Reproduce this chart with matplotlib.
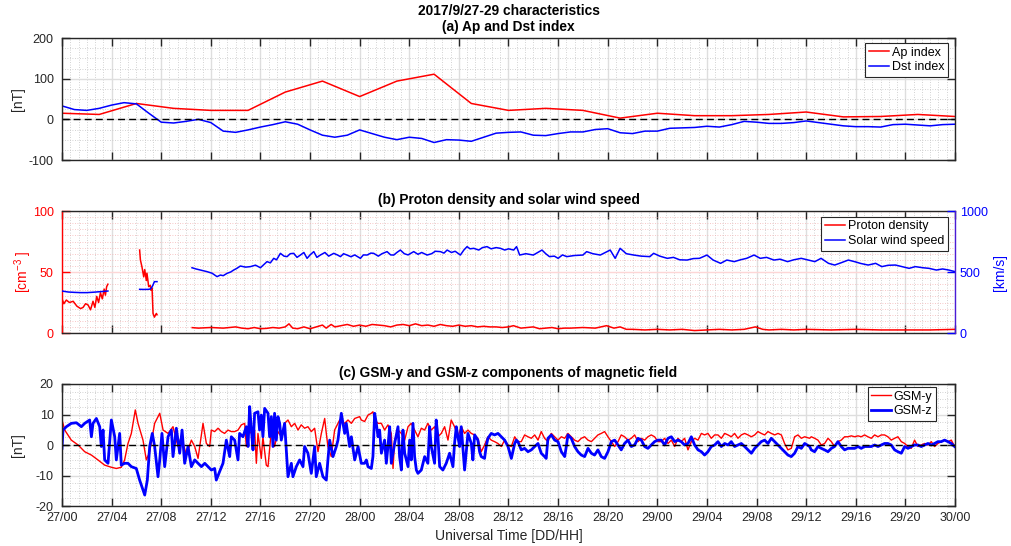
import numpy as np
import matplotlib
matplotlib.use("Agg")
import matplotlib.pyplot as plt
from matplotlib.ticker import FixedLocator, MultipleLocator, AutoMinorLocator

plt.rcParams['font.family'] = ['Liberation Sans', 'DejaVu Sans']
plt.rcParams['mathtext.fontset'] = 'custom'
plt.rcParams['mathtext.rm'] = 'Liberation Sans'
plt.rcParams['axes.unicode_minus'] = False
plt.rcParams['font.size'] = 9

TICK_FS = 9
LABEL_FS = 10
TITLE_FS = 9.9
LEGEND_FS = 9

# time axis: hours since 2017-09-27 00:00 UT
time_ticks = list(range(0, 73, 4))
time_tick_labels = ['27/00', '27/04', '27/08', '27/12', '27/16', '27/20',
                    '28/00', '28/04', '28/08', '28/12', '28/16', '28/20',
                    '29/00', '29/04', '29/08', '29/12', '29/16', '29/20', '30/00']

# (a) geomagnetic indices
ap_hours = list(range(0, 73, 3))
ap_index = [15, 12, 39, 27, 22, 22, 67, 94, 56, 94, 111, 39, 22,
            27, 22, 3, 15, 9, 9, 12, 18, 6, 7, 12, 7]
dst_hours = list(range(0, 73))
dst_index = [33, 24, 22, 27, 35, 41, 38, 15, -7, -9, -5, 0, -8, -29, -32, -26,
             -19, -13, -6, -12, -26, -39, -44, -39, -26, -35, -44, -50, -44, -47,
             -57, -50, -51, -54, -44, -34, -32, -31, -39, -40, -35, -31, -31, -25,
             -23, -33, -35, -29, -29, -22, -21, -20, -17, -19, -13, -5, -7, -10,
             -10, -8, -4, -8, -12, -16, -18, -18, -19, -13, -12, -14, -16, -13, -12]

# (b) plasma: (hour, value), data gaps between segments
density_seg1 = [(0, 28), (0.15, 24), (0.35, 27), (0.6, 25), (0.9, 26), (1.2, 22),
                (1.5, 20), (1.7, 21), (1.9, 24), (2.1, 23), (2.3, 19), (2.5, 26),
                (2.65, 21), (2.8, 30), (2.95, 25), (3.1, 33), (3.25, 28), (3.4, 36),
                (3.5, 31), (3.6, 38), (3.7, 40)]
density_seg2 = [(6.26, 68), (6.32, 60), (6.45, 54), (6.59, 46), (6.67, 52), (6.8, 43),
                (6.85, 49), (6.99, 38), (7.12, 39), (7.18, 35), (7.26, 37), (7.34, 16),
                (7.45, 13), (7.61, 16), (7.66, 15)]
density_seg3 = [(10.5, 4.4), (11, 4), (12, 4.5), (13, 4), (14, 5), (14.5, 4), (15, 3.5),
                (15.5, 4.5), (16, 3.5), (16.5, 3.8), (17, 4.5), (17.5, 4), (18, 5),
                (18.3, 7.5), (18.6, 4), (19, 3.5), (19.5, 5), (20, 3.5), (20.5, 5),
                (21, 6.5), (21.3, 4), (21.7, 7), (22, 5), (22.5, 6), (23, 7), (23.5, 5.5),
                (24, 6.5), (24.5, 5.5), (25, 7), (25.5, 6.5), (26, 6), (26.5, 5), (27, 6.5),
                (27.5, 7), (28, 6), (28.5, 7.5), (29, 6), (29.5, 6.5), (30, 5.5), (30.5, 7),
                (31, 6), (31.5, 5.5), (32, 6.5), (32.5, 5.5), (33, 6), (33.5, 5), (34, 5.5),
                (34.5, 5), (35, 5), (35.5, 4.5), (36, 5), (36.4, 6), (37, 4), (37.5, 4.5),
                (38, 5), (38.5, 3.5), (39, 4), (39.5, 4.5), (40, 3.5), (40.5, 4), (41, 4),
                (42, 4.5), (43, 4), (43.9, 6), (44.5, 4), (45, 5), (45.5, 3), (46, 3),
                (47, 2.5), (48, 3), (49, 2.5), (50, 3), (51, 2), (52, 2.5), (53, 3),
                (54, 2.5), (55, 3), (55.9, 5), (56.5, 3), (57, 2.5), (58, 3), (59, 2.5),
                (60, 3), (62, 2.5), (64, 3), (66, 2.5), (68, 2.5), (70, 2.5), (72, 3)]

speed_seg1 = [(0, 344), (0.5, 336), (1.0, 333), (1.5, 331), (2.0, 331), (2.5, 334),
              (3.0, 338), (3.4, 341), (3.7, 344)]
speed_seg2 = [(6.26, 358), (6.6, 357), (7.0, 358), (7.15, 362), (7.3, 385),
              (7.45, 421), (7.66, 421)]
speed_seg3 = [(10.48, 535), (10.8, 525), (11.16, 516), (11.69, 503), (12.1, 490),
              (12.5, 462), (12.77, 475), (13.0, 470), (13.31, 489), (13.6, 500),
              (13.84, 516), (14.1, 530), (14.38, 549), (14.8, 540), (15.19, 544),
              (15.6, 556), (16.0, 535), (16.53, 585), (16.8, 575), (17.07, 612),
              (17.3, 600), (17.61, 653), (17.9, 630), (18.15, 626), (18.4, 650),
              (18.68, 653), (18.95, 620), (19.22, 639), (19.5, 660), (19.76, 612),
              (20.0, 640), (20.3, 667), (20.55, 620), (20.83, 639), (21.2, 660),
              (21.5, 630), (21.91, 653), (22.2, 640), (22.45, 626), (22.7, 650),
              (22.98, 639), (23.3, 625), (23.6, 640), (24.06, 612), (24.3, 640),
              (24.6, 639), (24.9, 655), (25.13, 653), (25.5, 630), (25.8, 650),
              (26.21, 667), (26.5, 640), (26.75, 639), (27.0, 660), (27.28, 680),
              (27.6, 650), (27.9, 640), (28.36, 667), (28.7, 645), (29.0, 660),
              (29.44, 639), (29.8, 650), (30.1, 670), (30.51, 667), (30.8, 655),
              (31.05, 680), (31.4, 660), (31.7, 670), (32.12, 639), (32.4, 680),
              (32.66, 708), (32.9, 690), (33.2, 694), (33.6, 680), (33.9, 700),
              (34.27, 708), (34.6, 690), (35.0, 700), (35.35, 694), (35.7, 680),
              (36.0, 690), (36.42, 680), (36.65, 708), (36.9, 639), (37.4, 650),
              (38.0, 639), (38.35, 660), (38.7, 680), (39.0, 650), (39.3, 626),
              (39.7, 630), (40.0, 612), (40.35, 640), (40.7, 626), (41.3, 635),
              (42.0, 639), (42.3, 667), (42.8, 650), (43.4, 639), (43.8, 660),
              (44.2, 680), (44.6, 612), (45.0, 694), (45.5, 650), (46.1, 639),
              (46.7, 630), (47.4, 626), (47.7, 653), (48.2, 630), (48.8, 612),
              (49.3, 620), (49.8, 600), (50.4, 598), (50.9, 610), (51.4, 612),
              (52.0, 639), (52.5, 598), (53.1, 571), (53.6, 598), (54.2, 585),
              (54.7, 600), (55.2, 612), (55.8, 639), (56.3, 612), (56.8, 620),
              (57.4, 598), (57.9, 605), (58.5, 585), (59.0, 600), (59.6, 612),
              (60.1, 600), (60.7, 585), (61.2, 612), (61.8, 571), (62.3, 557),
              (62.8, 575), (63.4, 598), (63.9, 585), (64.4, 570), (65.0, 557),
              (65.6, 571), (66.1, 544), (66.6, 555), (67.2, 557), (67.7, 545),
              (68.3, 530), (68.8, 544), (69.4, 535), (69.9, 530), (70.5, 516),
              (71.0, 525), (71.5, 516), (72.0, 503)]

# (c) IMF components in GSM, (hour, nT)
gsm_y = [(0, 8.2), (0.22, 4.9), (0.75, 1.6), (1.3, 0), (1.83, -2.2), (2.37, -3.3),
         (2.9, -4.9), (3.44, -6.6), (3.98, -7.3), (4.38, -7.7), (4.78, -7.3), (5.05, -4.9),
         (5.32, 0.5), (5.59, 3.8), (5.91, 11.5), (6.13, 7.1), (6.53, 1.6), (6.8, -4.9),
         (7.07, -2.2), (7.47, 7.1), (7.88, 10.4), (8.15, 4.9), (8.55, 3.8), (8.95, 6.0),
         (9.35, -0.5), (9.62, 2.7), (10.03, -3.3), (10.43, 1.6), (10.7, -0.5), (10.97, -4.4),
         (11.37, 7.1), (11.64, 0.5), (11.91, -0.5),
         (12.04, 4.9), (12.31, 4.4), (12.58, 5.5), (12.85, 4.4), (13.11, 3.8), (13.38, 4.9),
         (13.65, 4.4), (13.92, 4.4), (14.19, 4.9), (14.46, 6.6), (14.73, 7.1), (14.86, -0.5),
         (15.0, 4.9), (15.27, 3.8), (15.53, 4.9), (15.67, -6.0), (15.8, 3.8), (16.07, -4.4),
         (16.2, 2.7), (16.47, -6.6), (16.61, -7.1), (16.88, 4.9), (17.14, -0.5), (17.41, 4.4),
         (17.68, 2.7), (17.95, 7.1), (18.22, 8.2), (18.49, 6.0), (18.76, 7.1), (19.03, 4.9),
         (19.29, 6.6), (19.56, 5.5), (19.83, 6.0), (20.1, 4.4), (20.37, 5.5), (20.64, -2.2),
         (20.91, 3.8), (21.18, 8.7), (21.31, 3.8), (21.44, -0.5), (21.71, -3.8), (21.98, 4.9),
         (22.39, 8.2), (22.79, 7.1), (23.06, 8.2), (23.33, 7.1), (23.6, 8.7), (24.0, 9.3),
         (24.13, 8.2), (24.4, 7.7), (24.67, 9.8), (24.94, 10.4), (25.07, 10.9), (25.21, 8.2),
         (25.48, 7.1), (25.75, 7.1), (26.01, 4.9), (26.28, 6.6), (26.55, 3.8), (26.69, -7.7),
         (26.82, 1.6), (27.09, 4.9), (27.36, 3.8), (27.63, 1.6), (27.9, 6.0), (28.16, 7.1),
         (28.43, 4.9), (28.7, 2.7), (28.97, 5.5), (29.24, 4.9), (29.5, 7.1), (29.77, 4.9),
         (30.04, 6.0), (30.31, 2.7), (30.58, 3.8), (30.85, 6.0), (31.12, 1.6), (31.38, 8.2),
         (31.65, 6.0), (31.92, 2.7), (32.19, 6.0), (32.46, 3.8), (32.73, 4.9), (33.0, 3.8),
         (33.27, 3.3), (33.53, 2.2), (33.8, -2.2), (34.07, 0), (34.34, 2.7), (34.61, 1.6),
         (34.88, 1.1), (35.15, 0.5), (35.42, -0.5), (35.69, 1.6), (35.96, 0), (36.23, -0.5),
         (36.5, 2.7), (36.76, 1.1), (37.03, 1.1), (37.3, 3.3), (37.57, 2.7), (37.84, 2.2),
         (38.11, 3.3), (38.38, 1.6), (38.64, 4.4), (38.91, 2.2), (39.18, 1.1), (39.45, 3.8),
         (39.72, 2.7), (39.99, 1.6), (40.26, 2.7), (40.53, 2.2), (40.79, 3.8), (41.06, 2.7),
         (41.33, 1.6), (41.6, 1.1), (41.87, 2.2), (42.14, 2.7), (42.41, 1.6), (42.68, 1.1),
         (42.94, 2.2), (43.21, 3.3), (43.48, 3.8), (43.75, 4.4), (44.02, 2.7), (44.29, 1.1),
         (44.56, -0.5), (44.83, 1.1), (45.09, 3.3), (45.36, 2.7), (45.63, 1.6), (45.9, 2.2),
         (46.17, 3.3), (46.44, 1.1), (46.71, 2.2), (46.98, 1.6), (47.24, 2.7), (47.51, 3.3),
         (47.78, 2.7), (48.05, 1.1), (48.32, 1.1), (48.59, 2.2), (48.86, 0.5), (49.13, 1.6),
         (49.4, -0.5), (49.66, 2.2), (49.93, 1.1), (50.2, 2.2), (50.47, -1.6), (50.74, 1.1),
         (51.01, 2.2), (51.28, 1.6), (51.55, 3.8), (51.81, 3.3), (52.08, 3.8), (52.35, 2.2),
         (52.62, 3.3), (52.89, 3.3), (53.16, 2.2), (53.43, 3.8), (53.7, 3.3), (53.96, 2.7),
         (54.23, 3.8), (54.5, 2.2), (54.77, 3.3), (55.04, 3.8), (55.31, 3.3), (55.58, 2.7),
         (55.85, 3.3), (56.11, 4.4), (56.38, 3.8), (56.65, 3.3), (56.92, 4.4), (57.19, 3.8),
         (57.46, 3.3), (57.73, 3.8), (58.0, 3.3), (58.26, 0.5), (58.53, -1.6), (58.8, -1.1),
         (59.07, 2.7), (59.34, 3.3), (59.61, 2.2), (59.88, 2.7), (60.28, 2.2), (60.41, 2.7),
         (60.68, 2.2), (60.95, 1.6), (61.22, 0), (61.49, 0.5), (61.76, 2.2), (62.03, 1.1),
         (62.29, -0.5), (62.56, 1.1), (62.83, 1.6), (63.1, 2.7), (63.37, 2.7), (63.64, 3.0),
         (63.91, 2.7), (64.18, 3.0), (64.44, 2.7), (64.71, 3.3), (64.98, 2.7), (65.25, 2.2),
         (65.52, 3.3), (65.79, 2.7), (66.06, 3.3), (66.32, 3.3), (66.59, 2.7), (66.86, 1.6),
         (67.13, 2.2), (67.4, 2.7), (67.67, 1.1), (67.94, 0.5), (68.21, -0.5), (68.47, -1.1),
         (68.74, 1.6), (69.01, -0.5), (69.28, 0), (69.55, 0.5), (69.82, 0), (70.09, 1.1),
         (70.35, -0.5), (70.62, 0.5), (70.89, 1.1), (71.16, 1.6), (71.43, 1.1), (71.7, 1.6),
         (71.97, -0.5)]

gsm_z = [(0, -1.1), (0.08, 4.9), (0.35, 6.0), (0.75, 7.1), (1.16, 7.3), (1.56, 6.0),
         (1.83, 7.1), (2.23, 8.2), (2.37, 2.7), (2.5, 7.1), (2.77, 8.7), (3.04, 6.0),
         (3.17, -0.5), (3.31, 4.9), (3.44, -4.9), (3.71, -6.0), (3.98, 8.2), (4.25, 2.7),
         (4.38, -4.9), (4.65, 3.8), (4.78, -6.6), (5.05, -6.0), (5.32, -6.0), (5.59, -7.1),
         (5.99, -7.7), (6.26, -11.5), (6.53, -14.8), (6.67, -16.4), (6.88, -11.5), (7.07, -0.5),
         (7.28, 3.8), (7.47, -0.5), (7.74, -10.4), (7.88, -4.9), (8.06, 3.8), (8.28, -7.1),
         (8.55, 2.7), (8.82, 4.9), (8.95, -3.8), (9.22, 5.5), (9.49, -2.7), (9.68, 4.9),
         (9.89, -6.0), (10.16, -0.5), (10.43, -7.1), (10.7, -4.9), (10.97, -6.0), (11.24, -7.1),
         (11.51, -6.0), (11.91, -7.7),
         (12.04, -8.2), (12.31, -7.7), (12.44, -11.5), (12.71, -8.7), (12.98, -6.0), (13.25, 1.6),
         (13.52, -3.8), (13.65, 2.7), (13.92, 1.6), (14.19, -4.9), (14.32, 3.8), (14.59, 2.7),
         (14.86, 6.0), (15.0, -0.5), (15.13, 12.6), (15.27, 4.9), (15.4, -1.6), (15.53, 10.4),
         (15.8, 10.9), (15.93, 4.9), (16.07, 9.8), (16.2, 2.7), (16.34, 12.0), (16.61, 10.4),
         (16.74, 2.7), (16.88, 9.3), (17.01, -0.5), (17.14, 10.4), (17.28, 1.6), (17.41, 9.3),
         (17.55, 7.1), (17.68, 1.6), (17.95, 7.1), (18.22, -10.4), (18.49, -6.0), (18.62, -10.4),
         (18.89, -7.1), (19.16, -4.9), (19.43, -7.1), (19.56, -0.5), (19.83, -2.7), (20.1, -9.3),
         (20.37, -0.5), (20.5, -10.4), (20.77, -6.0), (21.04, -10.4), (21.31, -11.5), (21.44, -4.9),
         (21.58, 1.6), (21.85, -3.8), (22.12, -0.5), (22.25, 1.6), (22.52, 10.4), (22.79, 3.8),
         (22.92, 7.1), (23.19, -0.5), (23.33, 2.7), (23.6, -4.9), (23.87, -0.5), (24.13, -6.0),
         (24.4, -6.0), (24.54, -4.9), (24.67, -7.1), (24.94, -7.7), (25.07, -3.8), (25.21, 10.4),
         (25.34, 7.1), (25.48, 2.7), (25.61, 4.9), (25.75, -2.7), (26.01, 1.6), (26.15, -6.0),
         (26.28, -0.5), (26.42, 6.0), (26.55, -6.0), (26.82, 0.5), (27.09, 6.0), (27.22, -3.8),
         (27.36, -8.2), (27.49, 4.9), (27.63, -2.7), (27.9, -7.1), (28.03, 1.6), (28.16, -4.9),
         (28.3, 7.1), (28.43, -3.8), (28.57, -8.2), (28.7, -9.3), (28.97, -8.2), (29.24, -3.8),
         (29.5, -6.0), (29.64, 6.0), (29.77, -0.5), (30.04, -6.0), (30.17, 8.2), (30.31, 2.7),
         (30.45, -7.1), (30.71, -8.2), (30.98, -6.0), (31.25, -2.7), (31.52, -7.1), (31.65, 0.5),
         (31.79, 6.0), (31.92, 2.7), (32.06, -0.5), (32.19, 6.0), (32.33, -1.6), (32.46, -8.2),
         (32.73, 3.8), (33.0, 0.5), (33.13, -4.9), (33.27, 3.3), (33.53, 1.6), (33.67, -2.2),
         (33.8, -3.8), (34.07, -4.4), (34.2, -0.5), (34.34, 2.2), (34.61, 3.8), (34.88, 3.3),
         (35.15, 3.8), (35.42, 2.7), (35.69, 1.6), (35.96, -0.5), (36.23, -4.4),
         (36.5, 0.5), (36.63, 1.6), (36.76, 1.1), (37.03, -1.6), (37.3, -1.1), (37.57, -2.2),
         (37.84, -1.6), (38.11, -0.5), (38.38, 0.5), (38.64, -2.7), (38.91, -3.8), (39.04, -4.4),
         (39.18, 2.2), (39.45, 3.3), (39.72, 1.6), (39.99, 1.1), (40.26, -2.2), (40.53, -3.8),
         (40.66, -0.5), (40.79, 3.3), (41.06, 2.2), (41.33, -0.5), (41.6, -2.2), (41.87, -3.3),
         (42.14, -3.8), (42.41, -1.1), (42.68, -2.7), (42.94, -3.3), (43.21, -1.6), (43.48, -3.8),
         (43.75, -4.4), (44.02, -2.2), (44.29, 1.1), (44.56, 1.6), (44.83, 0), (45.09, -1.6),
         (45.36, 0.5), (45.63, 1.6), (45.9, -0.5), (46.17, 0), (46.44, 2.2), (46.71, 1.6),
         (46.98, -0.5), (47.24, -1.1), (47.51, 0), (47.78, 1.1), (48.05, 1.6),
         (48.32, 1.6), (48.59, 0), (48.86, 2.2), (49.13, 2.7), (49.4, 1.1), (49.66, 1.6),
         (49.93, 1.1), (50.2, 0), (50.47, 0.5), (50.74, 2.7), (51.01, 0), (51.28, -1.6),
         (51.55, -2.2), (51.81, -3.3), (52.08, -2.2), (52.35, -0.5), (52.62, 0), (52.89, 1.1),
         (53.16, -0.5), (53.43, 0.5), (53.7, 0), (53.96, 1.1), (54.23, -0.5), (54.5, 0),
         (54.77, 0.5), (55.04, -0.5), (55.31, -1.6), (55.58, -2.7), (55.85, -1.1), (56.11, 0),
         (56.38, 1.1), (56.65, 1.6), (56.92, 0.5), (57.19, 2.2), (57.46, 1.1), (57.73, 0),
         (58.0, -1.1), (58.26, -2.2), (58.53, -3.3), (58.8, -3.8), (59.07, -2.7), (59.34, -0.5),
         (59.61, -1.1), (59.88, 0.5), (60.28, -0.5),
         (60.41, -1.6), (60.68, -2.2), (60.95, -0.5), (61.22, -1.1), (61.49, -1.6), (61.76, -2.2),
         (62.03, -1.1), (62.29, -0.5), (62.56, 1.1), (62.83, -0.5), (63.1, -1.6), (63.37, -1.1),
         (63.64, -1.1), (63.91, -1.1), (64.18, -0.5), (64.44, -1.1), (64.71, -0.5), (64.98, -0.5),
         (65.25, -0.5), (65.52, 0), (65.79, -0.5), (66.06, 0), (66.32, 0.5), (66.59, 0.5),
         (66.86, 0), (67.13, -1.6), (67.4, -2.2), (67.67, -2.7), (67.94, -0.5), (68.21, -1.1),
         (68.47, -0.5), (68.74, 0), (69.01, 0), (69.28, -0.5), (69.55, 0), (69.82, 0.5),
         (70.09, 0), (70.35, 0.5), (70.62, 1.1), (70.89, 1.1), (71.16, 1.6), (71.43, 1.1),
         (71.7, 0.5), (71.97, -0.5)]

AX_GRAY = '#262626'
RED = '#ff0000'
BLUE = '#0000ff'


def joined(*segments):
    # stack segments with NaN rows so that data gaps stay open
    parts = []
    for seg in segments:
        parts.append(np.array(seg, dtype=float))
        parts.append(np.array([[np.nan, np.nan]]))
    return np.vstack(parts[:-1]).T


def style_time_axis(ax, show_labels=False):
    ax.set_xlim(0, 72)
    ax.xaxis.set_major_locator(FixedLocator(time_ticks))
    ax.xaxis.set_minor_locator(AutoMinorLocator(6))
    if show_labels:
        ax.set_xticklabels(time_tick_labels)
    else:
        ax.set_xticklabels([])
    ax.tick_params(axis='x', which='major', direction='in', length=6, width=1.0,
                   color=AX_GRAY, top=True, bottom=True, labelcolor=AX_GRAY,
                   labelsize=TICK_FS, pad=4)
    ax.tick_params(axis='both', which='minor', length=0)
    ax.grid(axis='x', which='major', color='#dedede', lw=1.0)
    ax.grid(axis='x', which='minor', color='#c4c4c4', lw=0.6, ls=(0, (1, 2)))
    ax.set_axisbelow(True)
    for sp in ax.spines.values():
        sp.set_color(AX_GRAY)
        sp.set_linewidth(1.0)


def style_value_axis(ax, major, minor_div):
    ax.yaxis.set_major_locator(MultipleLocator(major))
    ax.yaxis.set_minor_locator(AutoMinorLocator(minor_div))
    ax.tick_params(axis='y', which='major', direction='in', length=6, width=1.0,
                   color=AX_GRAY, left=True, right=True, labelcolor=AX_GRAY,
                   labelsize=TICK_FS, pad=6)
    ax.grid(axis='y', which='major', color='#dedede', lw=1.0)
    ax.grid(axis='y', which='minor', color='#c4c4c4', lw=0.6, ls=(0, (1, 2)))


def matlab_legend(ax, handles, labels, anchor):
    leg = ax.legend(handles, labels, loc='upper right', bbox_to_anchor=anchor,
                    borderaxespad=0, fancybox=False, shadow=False, framealpha=1,
                    edgecolor=AX_GRAY, handlelength=1.6, handletextpad=0.2,
                    labelspacing=0.2, borderpad=0.3, fontsize=LEGEND_FS)
    leg.get_frame().set_linewidth(0.8)
    return leg


fig = plt.figure(figsize=(10.11, 5.46), dpi=100)
W, H = 1011, 546


def axes_box(top, bottom):
    return [62 / W, 1 - bottom / H, 893 / W, (bottom - top) / H]


ax_a = fig.add_axes(axes_box(38, 160))
ax_b = fig.add_axes(axes_box(211, 333))
ax_c = fig.add_axes(axes_box(384, 506))

# ---- (a) Ap and Dst ----
style_time_axis(ax_a)
style_value_axis(ax_a, 100, 4)
ax_a.set_ylim(-100, 200)
ap_line, = ax_a.plot(ap_hours, ap_index, color=RED, lw=1.1)
dst_line, = ax_a.plot(dst_hours, dst_index, color=BLUE, lw=1.1)
ax_a.axhline(0, color='black', lw=1.0, ls=(0, (5, 3)))
ax_a.set_ylabel('[nT]', va='center', color=AX_GRAY, fontsize=LABEL_FS)
ax_a.yaxis.set_label_coords(-0.049, 0.5)
ax_a.set_title('2017/9/27-29 characteristics\n(a) Ap and Dst index',
               fontweight='bold', fontsize=TITLE_FS, linespacing=1.15, pad=5)
matlab_legend(ax_a, [ap_line, dst_line], ['Ap index', 'Dst index'], (0.992, 0.96))

# ---- (b) proton density and solar wind speed ----
style_time_axis(ax_b)
ax_b.set_ylim(0, 100)
ax_b.yaxis.set_major_locator(MultipleLocator(50))
ax_b.yaxis.set_minor_locator(MultipleLocator(5))
ax_b.tick_params(axis='y', which='major', direction='in', length=6, width=1.0,
                 color=RED, left=True, right=False, labelcolor=RED,
                 labelsize=TICK_FS, pad=6)
ax_b.grid(axis='y', which='major', color='#fdd6d6', lw=1.0)
ax_b.grid(axis='y', which='minor', color='#f4b4b4', lw=0.6, ls=(0, (1, 2)))
ax_b.spines['left'].set_color(RED)
ax_b.spines['right'].set_visible(False)

dens_t, dens_v = joined(density_seg1, density_seg2, density_seg3)
dens_line, = ax_b.plot(dens_t, dens_v, color=RED, lw=1.1)
ax_b.set_ylabel(r'[cm$^{-3}$ ]', va='center', color=RED, fontsize=LABEL_FS)
ax_b.yaxis.set_label_coords(-0.044, 0.5)
ax_b.set_title('(b) Proton density and solar wind speed', fontweight='bold',
               fontsize=TITLE_FS, pad=5)

ax_b2 = ax_b.twinx()
ax_b2.set_xlim(0, 72)
ax_b2.set_ylim(0, 1000)
ax_b2.yaxis.set_major_locator(MultipleLocator(500))
ax_b2.tick_params(axis='y', which='major', direction='in', length=6, width=1.0,
                  color=BLUE, labelcolor=BLUE, labelsize=TICK_FS, pad=3.5)
ax_b2.tick_params(axis='y', which='minor', length=0)
for side in ('left', 'top', 'bottom'):
    ax_b2.spines[side].set_visible(False)
ax_b2.spines['right'].set_color('#4a1ad6')
ax_b2.spines['right'].set_linewidth(1.0)
speed_t, speed_v = joined(speed_seg1, speed_seg2, speed_seg3)
speed_line, = ax_b2.plot(speed_t, speed_v, color=BLUE, lw=1.1)
ax_b2.set_ylabel('[km/s]', va='center', color=BLUE, fontsize=LABEL_FS)
ax_b2.yaxis.set_label_coords(1.05, 0.5)
matlab_legend(ax_b2, [dens_line, speed_line], ['Proton density', 'Solar wind speed'],
              (0.992, 0.953))

# ---- (c) GSM-y and GSM-z ----
style_time_axis(ax_c, show_labels=True)
style_value_axis(ax_c, 10, 4)
ax_c.set_ylim(-20, 20)
gy_t, gy_v = np.array(gsm_y).T
gz_t, gz_v = np.array(gsm_z).T
gy_line, = ax_c.plot(gy_t, gy_v, color=RED, lw=1.0)
gz_line, = ax_c.plot(gz_t, gz_v, color=BLUE, lw=2.0)
ax_c.axhline(0, color='black', lw=1.0, ls=(0, (5, 3)))
ax_c.set_ylabel('[nT]', va='center', color=AX_GRAY, fontsize=LABEL_FS)
ax_c.yaxis.set_label_coords(-0.049, 0.5)
ax_c.set_xlabel('Universal Time [DD/HH]', va='center', color=AX_GRAY, fontsize=LABEL_FS)
ax_c.xaxis.set_label_coords(0.5, -0.245)
ax_c.set_title('(c) GSM-y and GSM-z components of magnetic field',
               fontweight='bold', fontsize=TITLE_FS, pad=5)
matlab_legend(ax_c, [gy_line, gz_line], ['GSM-y', 'GSM-z'], (0.979, 0.975))

fig.savefig('out.png', dpi=100)
